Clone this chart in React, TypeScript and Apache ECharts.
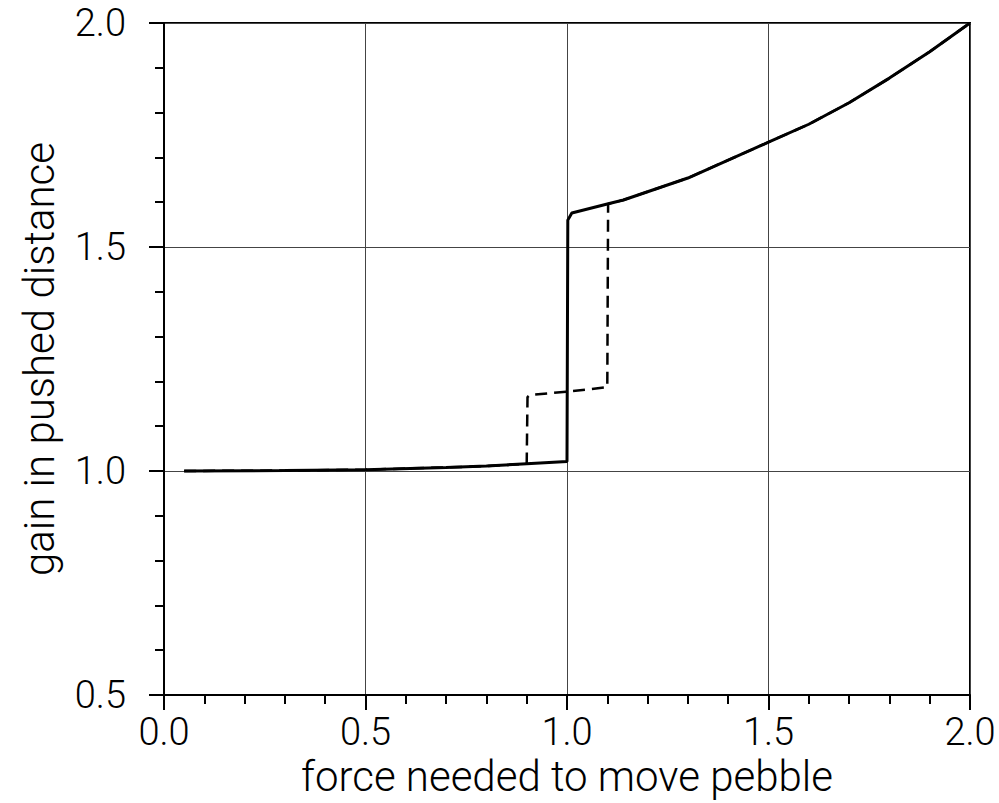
import React, { useEffect, useRef } from "react";
import * as echarts from "echarts";

const xTicks = [0.0, 0.5, 1.0, 1.5, 2.0];
const yTicks = [0.5, 1.0, 1.5, 2.0];

const solidX = [0.05, 0.3, 0.5, 0.7, 0.8, 0.9, 1.0, 1.002, 1.012, 1.1, 1.14, 1.3, 1.5, 1.6, 1.7, 1.8, 1.9, 2.0];
const solidY = [1.0, 1.001, 1.003, 1.008, 1.011, 1.016, 1.021, 1.56, 1.576, 1.596, 1.605, 1.654, 1.734, 1.774, 1.822, 1.877, 1.936, 2.0];

const dashX = [0.05, 0.3, 0.5, 0.7, 0.8, 0.9, 0.902, 0.908, 1.0, 1.1, 1.102, 1.14, 1.3, 1.5, 1.6, 1.7, 1.8, 1.9, 2.0];
const dashY = [1.0, 1.001, 1.003, 1.008, 1.011, 1.016, 1.165, 1.17, 1.177, 1.187, 1.596, 1.605, 1.654, 1.734, 1.774, 1.822, 1.877, 1.936, 2.0];

const xName = "force needed to move pebble";
const yName = "gain in pushed distance";

const FONT = "Roboto, 'DejaVu Sans', sans-serif";

export default function App() {
  const ref = useRef<HTMLDivElement>(null);
  useEffect(() => {
    if (!ref.current) return;
    const chart = echarts.init(ref.current, null, { renderer: "svg" });
    const axisCommon = {
      type: "value" as const,
      interval: 0.5,
      axisLine: { show: true, onZero: false, lineStyle: { color: "#000", width: 2 } },
      axisTick: { show: true, length: 15, lineStyle: { color: "#000", width: 2 } },
      minorTick: { show: true, splitNumber: 5, length: 9, lineStyle: { color: "#000", width: 2 } },
      splitLine: { show: true, lineStyle: { color: "#444", width: 1 } },
      minorSplitLine: { show: false },
    };
    chart.setOption({
      animation: false,
      backgroundColor: "#fff",
      grid: {
        left: 164,
        right: 29,
        top: 23,
        bottom: 108,
        show: true,
        borderColor: "#000",
        borderWidth: 2,
        containLabel: false,
      },
      xAxis: {
        ...axisCommon,
        min: 0,
        max: 2,
        name: xName,
        nameLocation: "middle",
        nameGap: 54,
        nameTextStyle: { fontFamily: FONT, fontSize: 42, color: "#000", fontWeight: 300 },
        axisLabel: {
          margin: 18,
          fontFamily: FONT,
          fontSize: 38,
          fontWeight: 300,
          color: "#000",
          formatter: (v: number) => (xTicks.some((t) => Math.abs(t - v) < 1e-9) ? v.toFixed(1) : ""),
        },
      },
      yAxis: {
        ...axisCommon,
        min: 0.5,
        max: 2,
        name: yName,
        nameLocation: "middle",
        nameGap: 104,
        nameTextStyle: { fontFamily: FONT, fontSize: 42, color: "#000", fontWeight: 300 },
        axisLabel: {
          margin: 38,
          fontFamily: FONT,
          fontSize: 38,
          fontWeight: 300,
          color: "#000",
          formatter: (v: number) => (yTicks.some((t) => Math.abs(t - v) < 1e-9) ? v.toFixed(1) : ""),
        },
      },
      series: [
        {
          type: "line",
          data: solidX.map((x, i) => [x, solidY[i]]),
          showSymbol: false,
          symbol: "none",
          lineStyle: { color: "#000", width: 3 },
          z: 3,
        },
        {
          type: "line",
          data: dashX.map((x, i) => [x, dashY[i]]),
          showSymbol: false,
          symbol: "none",
          lineStyle: { color: "#000", width: 2.5, type: [12, 7] },
          z: 4,
        },
      ],
    });
    return () => chart.dispose();
  }, []);
  return <div ref={ref} style={{ width: 999, height: 803, position: "absolute", left: 0, top: 0 }} />;
}
